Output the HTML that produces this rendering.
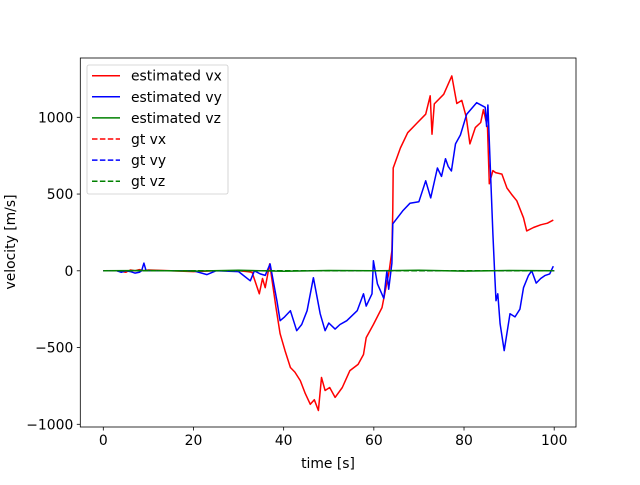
<!DOCTYPE html>
<html><head><meta charset="utf-8"><style>
html,body{margin:0;padding:0;background:#fff}
svg text{font-family:"DejaVu Sans","Liberation Sans",sans-serif;font-size:13.9px;fill:#000}
</style></head><body>
<svg id="chart" width="640" height="480" xmlns="http://www.w3.org/2000/svg">
<rect x="0" y="0" width="640" height="480" fill="#fff"/>
<g id="plot"></g>
<g id="axes"></g>
<text x="328" y="468" text-anchor="middle">time [s]</text>
<text transform="translate(15,242) rotate(-90)" text-anchor="middle">velocity [m/s]</text>
<g id="legend"></g>
</svg>
<script>
const xTicks=[0,20,40,60,80,100];
const yTicks=[-1000,-500,0,500,1000];
const vxT=[0,3,5,6,7,8,9,10,15,20,25,30,32,33,34.6,35.3,35.9,36.9,38.3,39.2,40.3,41.5,42.5,43.7,44.8,45.9,46.8,47.7,48.4,49.2,50.2,51.4,53,54.7,56.5,57.7,58.3,59.9,61.8,62.6,63.4,64.0,64.2,64.3,65.9,67.5,69.5,71.5,72.5,72.9,73.4,75.5,77.3,78.4,79.5,80.5,81.3,82.5,83.7,84.3,85.2,85.6,86.4,87.0,88.4,89.5,90.5,91.7,93.2,93.9,95.4,97.0,98.5,99.8];
const vxV=[0,0,-10,5,0,8,0,5,0,-5,0,0,-5,-10,-150,-50,-110,45,-240,-410,-520,-630,-660,-715,-800,-870,-840,-910,-695,-780,-760,-825,-760,-650,-610,-545,-435,-350,-240,-120,0,130,400,670,800,900,960,1020,1140,890,1087,1150,1270,1090,1110,1000,827,933,966,1050,933,567,653,640,630,540,500,456,345,260,282,300,310,330];
const vyT=[0,3,4,5,6,7,8,8.5,9,9.5,10,15,20,23,25,30,32.6,33.5,34.8,35.9,37.0,38.5,39.2,40.2,41.5,42.9,44,45.2,46.6,48.1,49.2,50,51.4,52.5,54.0,56.3,57.7,58.3,59.6,59.9,60.8,62.2,62.9,63.3,64.0,64.2,66.4,68,70,71.5,72.6,74.1,75,75.9,76.5,77.2,78.1,79.2,80.6,82.8,84.7,85,85.3,86.4,86.8,87.1,87.5,88.0,88.9,90.2,91.3,92.4,93.2,94.3,95,96,97,98,99,99.8];
const vyV=[0,0,-10,0,-5,-15,-10,0,50,0,0,0,0,-25,0,-5,-65,0,-20,-30,45,-195,-325,-300,-260,-390,-350,-260,-45,-280,-390,-340,-380,-350,-325,-260,-150,-230,-150,65,-85,-180,0,-120,50,306,390,440,450,586,475,670,615,730,680,650,827,885,1020,1095,1065,940,1080,240,-20,-195,-150,-345,-520,-280,-300,-250,-110,-30,0,-80,-50,-30,-20,30];
const vzT=[0,10,20,30,40,50,60,70,80,90,100];
const vzV=[0,2,-2,3,-3,2,0,3,-2,2,0];
const gtT=[0,100];
const gtV=[0,0];
const X0=80.3,X1=576,Y0=58,Y1=427;
const sx=t=>103.3+(t-0)*(554.2-103.3)/100;
const sy=v=>270.8-v*0.1535;
const NS='http://www.w3.org/2000/svg';
const plot=document.getElementById('plot'),axes=document.getElementById('axes'),leg=document.getElementById('legend');
function mk(tag,attrs,parent){const e=document.createElementNS(NS,tag);for(const k in attrs)e.setAttribute(k,attrs[k]);parent.appendChild(e);return e;}
const series=[
 {t:vxT,v:vxV,c:'#ff0000',d:null,n:'estimated-vx-line'},
 {t:vyT,v:vyV,c:'#0000ff',d:null,n:'estimated-vy-line'},
 {t:vzT,v:vzV,c:'#008000',d:null,n:'estimated-vz-line'},
 {t:gtT,v:gtV,c:'#ff0000',d:'5.5,2.4',n:'gt-vx-line'},
 {t:gtT,v:gtV,c:'#0000ff',d:'5.5,2.4',n:'gt-vy-line'},
 {t:gtT,v:gtV,c:'#008000',d:'5.5,2.4',n:'gt-vz-line'}];
series.forEach(s=>{
 const p=s.t.map((t,i)=>sx(t).toFixed(1)+','+sy(s.v[i]).toFixed(1)).join(' ');
 const el=mk('polyline',{points:p,fill:'none',stroke:s.c,'stroke-width':1.5,'stroke-linejoin':'round'},plot);
 if(s.d)el.setAttribute('stroke-dasharray',s.d);
 
 
});
const frame=mk('rect',{x:X0,y:Y0,width:X1-X0,height:Y1-Y0,fill:'none',stroke:'#000','stroke-width':0.8},axes);


xTicks.forEach(t=>{
 const x=sx(t);
 const tk=mk('line',{x1:x,x2:x,y1:Y1,y2:Y1+3.5,stroke:'#000','stroke-width':0.8},axes);
 
 
 const tx=mk('text',{x:x,y:Y1+18,'text-anchor':'middle'},axes);tx.textContent=t;
 
 
});
yTicks.forEach(v=>{
 const y=sy(v);
 const tk=mk('line',{x1:X0-3.5,x2:X0,y1:y,y2:y,stroke:'#000','stroke-width':0.8},axes);
 
 
 const tx=mk('text',{x:X0-7,y:y+5,'text-anchor':'end'},axes);tx.textContent=(v<0?'\u2212'+(-v):v);
 
 
});
const lb=mk('rect',{x:87,y:65,width:141,height:129,rx:2,fill:'#fff','fill-opacity':0.8,stroke:'#ccc','stroke-width':0.8},leg);


const labels=['estimated vx','estimated vy','estimated vz','gt vx','gt vy','gt vz'];
labels.forEach((l,i)=>{
 const y=75.7+i*21.1,s=series[i];
 const ln=mk('line',{x1:92,x2:120,y1:y,y2:y,stroke:s.c,'stroke-width':1.5},leg);
 if(s.d)ln.setAttribute('stroke-dasharray',s.d);
 
 
 const tx=mk('text',{x:131,y:y+5},leg);tx.textContent=l;
 
 
});
</script>
</body></html>
